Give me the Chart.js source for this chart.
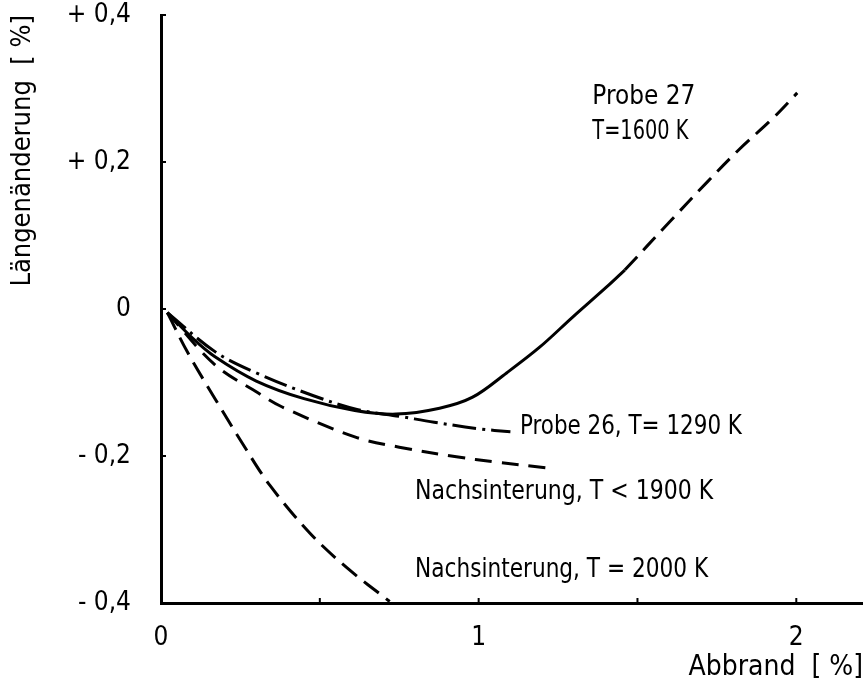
<!DOCTYPE html>
<html>
<head>
<meta charset="utf-8">
<script src="https://cdn.jsdelivr.net/npm/chart.js@4/dist/chart.umd.min.js"></script>
<style>
  html, body { margin: 0; padding: 0; background: #fff; }
  #wrap { width: 863px; height: 695px; }
</style>
</head>
<body>
<div id="wrap"><canvas id="abbrandChart"></canvas></div>
<script>
// Probe 27, T = 1600 K: measured part (solid) and extrapolation (dashed)
var probe27X = [0.02, 0.10, 0.17, 0.30, 0.45, 0.61, 0.74, 0.877, 0.981, 1.088, 1.192, 1.296, 1.403, 1.46];
var probe27Y = [-0.005, -0.040, -0.065, -0.098, -0.122, -0.138, -0.143, -0.135, -0.120, -0.087, -0.052, -0.011, 0.030, 0.053];
var probe27ExtX = [1.46, 1.60, 1.72, 1.82, 1.925, 2.003];
var probe27ExtY = [0.053, 0.118, 0.173, 0.217, 0.259, 0.294];

// Probe 26, T = 1290 K
var probe26X = [0.02, 0.17, 0.30, 0.48, 0.62, 0.75, 0.86, 1.00, 1.10];
var probe26Y = [-0.005, -0.058, -0.087, -0.118, -0.137, -0.146, -0.154, -0.163, -0.167];

// Nachsinterung, T < 1900 K
var sinter1900X = [0.02, 0.17, 0.305, 0.38, 0.61, 0.75, 0.93, 1.05, 1.21];
var sinter1900Y = [-0.005, -0.076, -0.114, -0.133, -0.174, -0.188, -0.201, -0.208, -0.216];

// Nachsinterung, T = 2000 K
var sinter2000X = [0.02, 0.085, 0.17, 0.258, 0.343, 0.469, 0.585, 0.72];
var sinter2000Y = [-0.005, -0.060, -0.122, -0.184, -0.240, -0.305, -0.352, -0.398];

// Axis ticks
var xTickValues = [0, 1, 2];
var xMinorTicks = [0.5, 1, 1.5, 2];
var yTickValues = [0.4, 0.2, 0, -0.2, -0.4];
var yTickLabels = ["+ 0,4", "+ 0,2", "0", "- 0,2", "- 0,4"];

// Curve labels (anchored in data coordinates, w = max text width)
var curveLabels = [
    { text: "Probe 27", x: 1.358, y: 0.288, w: 103 },
    { text: "T=1600 K", x: 1.358, y: 0.241, w: 96 },
    { text: "Probe 26, T= 1290 K", x: 1.13, y: -0.161, w: 222 },
    { text: "Nachsinterung, T < 1900 K", x: 0.80, y: -0.249, w: 298 },
    { text: "Nachsinterung, T = 2000 K", x: 0.80, y: -0.356, w: 293 }
];

var FONT = "'Liberation Sans Narrow', 'DejaVu Sans Condensed', 'Roboto Condensed', sans-serif";

function pts(xs, ys) {
    return xs.map((x, i) => ({ x: x, y: ys[i] }));
}

function curve(data, dash) {
    return {
        data: data,
        showLine: true,
        borderColor: "#000",
        borderWidth: 3,
        borderDash: dash,
        pointRadius: 0,
        tension: 0.35,
        fill: false
    };
}

var whiteBackground = {
    id: "whiteBackground",
    beforeDraw(chart) {
        var ctx = chart.ctx;
        ctx.save();
        ctx.fillStyle = "#fff";
        ctx.fillRect(0, 0, chart.width, chart.height);
        ctx.restore();
    }
};

// small tick marks pointing into the plot
var innerTicks = {
    id: "innerTicks",
    afterDraw(chart) {
        var ctx = chart.ctx, xs = chart.scales.x, ys = chart.scales.y;
        var area = chart.chartArea;
        ctx.save();
        ctx.strokeStyle = "#000";
        ctx.lineWidth = 2;
        xMinorTicks.forEach(v => {
            var px = xs.getPixelForValue(v);
            ctx.beginPath();
            ctx.moveTo(px, area.bottom);
            ctx.lineTo(px, area.bottom - 5);
            ctx.stroke();
        });
        yTickValues.forEach(v => {
            var py = ys.getPixelForValue(v);
            ctx.beginPath();
            ctx.moveTo(area.left, py);
            ctx.lineTo(area.left + 5, py);
            ctx.stroke();
        });
        ctx.restore();
    }
};

var curveText = {
    id: "curveText",
    afterDatasetsDraw(chart) {
        var ctx = chart.ctx, xs = chart.scales.x, ys = chart.scales.y;
        ctx.save();
        ctx.fillStyle = "#000";
        ctx.font = "26px " + FONT;
        ctx.textAlign = "left";
        ctx.textBaseline = "middle";
        curveLabels.forEach(l => {
            ctx.fillText(l.text, xs.getPixelForValue(l.x), ys.getPixelForValue(l.y), l.w);
        });
        ctx.restore();
    }
};

new Chart(document.getElementById("abbrandChart"), {
    type: "scatter",
    data: {
        datasets: [
            curve(pts(probe27X, probe27Y), []),
            curve(pts(probe27ExtX, probe27ExtY), [18, 9]),
            curve(pts(probe26X, probe26Y), [24, 6, 3, 6]),
            curve(pts(sinter1900X, sinter1900Y), [17, 10]),
            curve(pts(sinter2000X, sinter2000Y), [19, 9])
        ]
    },
    options: {
        responsive: true,
        maintainAspectRatio: false,
        animation: false,
        layout: { padding: { top: 15, right: 0, bottom: 0, left: 0 } },
        plugins: {
            legend: { display: false },
            tooltip: { enabled: false }
        },
        scales: {
            x: {
                type: "linear",
                min: 0,
                max: 2.21,
                afterFit: s => { s.height = 92; s.paddingLeft = 0; s.paddingRight = 0; },
                afterBuildTicks: s => { s.ticks = xTickValues.map(v => ({ value: v })); },
                grid: { display: false, drawTicks: false },
                border: { display: true, color: "#000", width: 3 },
                ticks: {
                    color: "#000",
                    padding: 20,
                    maxRotation: 0,
                    font: { family: FONT, size: 26 },
                    callback: v => String(v)
                },
                title: {
                    display: true,
                    text: "Abbrand  [ %]",
                    align: "end",
                    color: "#000",
                    font: { family: FONT, size: 28 },
                    padding: { top: 0, bottom: 10 }
                }
            },
            y: {
                type: "linear",
                min: -0.4,
                max: 0.4,
                afterFit: s => { s.width = 161; s.paddingTop = 0; s.paddingBottom = 0; },
                afterBuildTicks: s => { s.ticks = yTickValues.map(v => ({ value: v })); },
                grid: { display: false, drawTicks: false },
                border: { display: true, color: "#000", width: 3 },
                ticks: {
                    color: "#000",
                    padding: 30,
                    font: { family: FONT, size: 26 },
                    callback: (v) => yTickLabels[yTickValues.indexOf(v)]
                },
                title: {
                    display: true,
                    text: "Längenänderung  [ %]",
                    align: "end",
                    color: "#000",
                    font: { family: FONT, size: 27 },
                    padding: { top: 7, bottom: 0 }
                }
            }
        }
    },
    plugins: [whiteBackground, innerTicks, curveText]
});
</script>
</body>
</html>
